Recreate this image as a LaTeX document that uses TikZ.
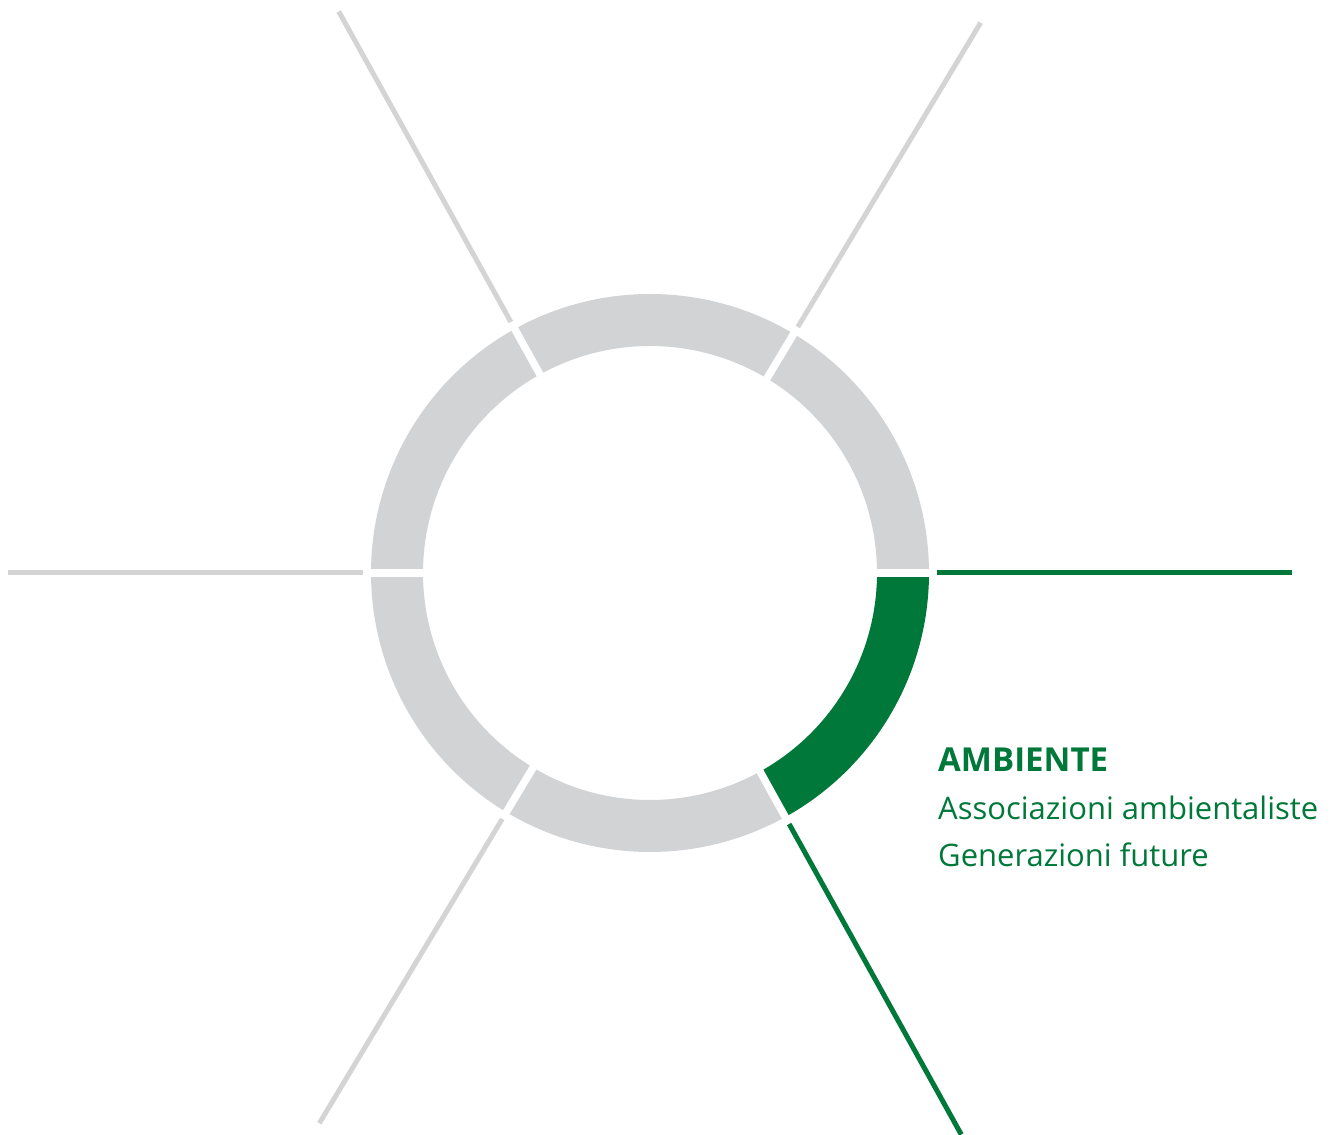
\documentclass[tikz,border=0pt]{standalone}
\usepackage{fontspec}
\setmainfont{Open Sans}
\usetikzlibrary{calc}
\definecolor{ringgray}{RGB}{209,211,212}
\definecolor{spokegray}{RGB}{212,212,213}
\definecolor{ambgreen}{RGB}{0,120,58}
\tikzset{
  spoke/.style={line width=5pt,spokegray},
  gap/.style={line width=7.5pt,white},
  label/.style={anchor=base west,inner sep=0pt,text=ambgreen,font=\fontsize{31}{48}\selectfont}
}
% one piece of the ring: colour, start angle, end angle
\newcommand{\ringpart}[3]{%
  \fill[#1] ($(c)+(#2:279)$) arc[start angle=#2,end angle=#3,radius=279]
    -- ($(c)+(#3:227)$) arc[start angle=#3,end angle=#2,radius=227] -- cycle;}

\begin{document}
\begin{tikzpicture}[x=1pt,y=1pt]
    \useasboundingbox (0,0) rectangle (1339,1135);
    \coordinate (c) at (650,562);

    \ringpart{ringgray}{0}{59}
    \ringpart{ringgray}{59}{119}
    \ringpart{ringgray}{119}{180}
    \ringpart{ringgray}{180}{239}
    \ringpart{ringgray}{239}{299}
    \ringpart{ambgreen}{299}{360}

    \draw[gap] (c) ++(0:215) -- ++(0:72);
    \draw[gap] (c) ++(59:215) -- ++(59:72);
    \draw[gap] (c) ++(119:215) -- ++(119:72);
    \draw[gap] (c) ++(180:215) -- ++(180:72);
    \draw[gap] (c) ++(239:215) -- ++(239:72);
    \draw[gap] (c) ++(299:215) -- ++(299:72);

    \draw[spoke] (c) ++(59:287) -- ++(59:355);
    \draw[spoke] (c) ++(119:287) -- ++(119:355);
    \draw[spoke] (c) ++(180:287) -- ++(180:355);
    \draw[spoke] (c) ++(239:287) -- ++(239:355);
    \draw[spoke,ambgreen] (c) ++(0:287) -- ++(0:355);
    \draw[spoke,ambgreen] (c) ++(299:287) -- ++(299:355);

    \node[label,font=\fontsize{33}{48}\selectfont\bfseries] (amb) at (938,363) {AMBIENTE};
    \node[label] (assoc) at (938,315) {Associazioni ambientaliste};
    \node[label] (gen) at (938,268) {Generazioni future};
\end{tikzpicture}
\end{document}
